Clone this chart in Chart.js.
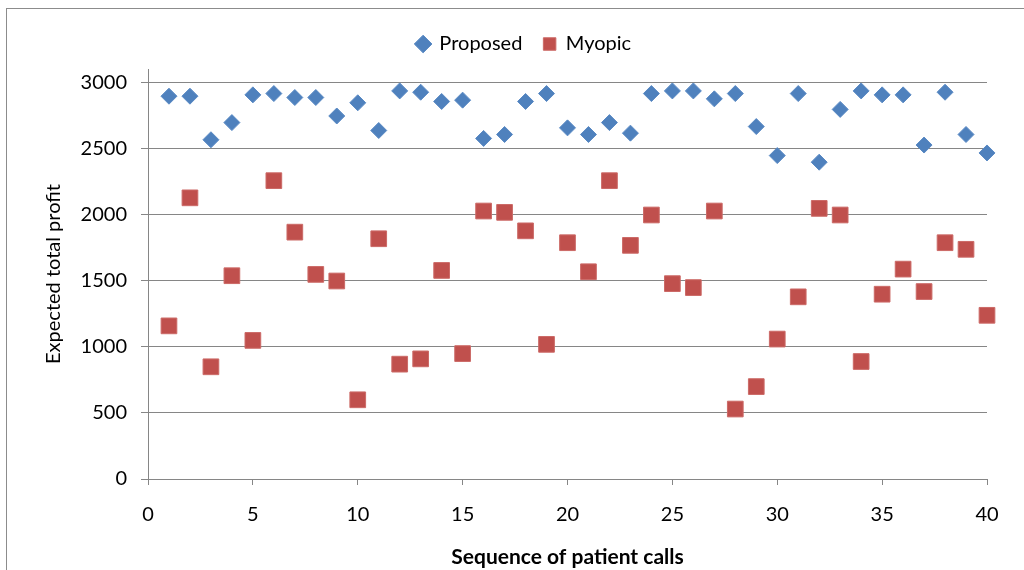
<!DOCTYPE html>
<html>
<head>
<meta charset="utf-8">
<script src="https://cdn.jsdelivr.net/npm/chart.js@4/dist/chart.umd.min.js"></script>
<style>
  body { margin: 0; background: #fff; }
  #wrap { position: relative; width: 1024px; height: 570px; overflow: hidden; }
  #frame { position: absolute; left: 6px; top: 8px; width: 1100px; height: 700px;
           border: 1px solid #8c8c8c; pointer-events: none; }
</style>
</head>
<body>
<div id="wrap">
  <canvas id="chart1" width="1024" height="570"></canvas>
  <div id="frame"></div>
</div>
<script>
const calls = [];
for (let i = 1; i <= 40; i++) calls.push(i);

const proposed = [2900, 2900, 2570, 2700, 2910, 2920, 2890, 2890, 2750, 2850,
                  2640, 2940, 2930, 2860, 2870, 2580, 2610, 2860, 2920, 2660,
                  2610, 2700, 2620, 2920, 2940, 2940, 2880, 2920, 2670, 2450,
                  2920, 2400, 2800, 2940, 2910, 2910, 2530, 2930, 2610, 2470];

const myopic = [1160, 2130, 850, 1540, 1050, 2260, 1870, 1550, 1500, 600,
                1820, 870, 910, 1580, 950, 2030, 2020, 1880, 1020, 1790,
                1570, 2260, 1770, 2000, 1480, 1450, 2030, 530, 700, 1060,
                1380, 2050, 2000, 890, 1400, 1590, 1420, 1790, 1740, 1240];

const yTicks = [0, 500, 1000, 1500, 2000, 2500, 3000];
const xTicks = [0, 5, 10, 15, 20, 25, 30, 35, 40];

const font = "Lato, 'Open Sans', sans-serif";
const axisGray = "#868686";

// empty axes only used as spacers around the plot area
const spacer = (pos, size) => ({
  position: pos,
  display: true,
  afterFit: s => { if (pos === 'top') s.height = size; else s.width = size; },
  grid: { display: false },
  border: { display: false },
  ticks: { display: false }
});

new Chart(document.getElementById("chart1"), {
  type: 'scatter',
  data: {
    datasets: [{
      label: 'Proposed',
      data: calls.map((x, i) => ({x: x, y: proposed[i]})),
      pointStyle: 'rectRot',
      pointRadius: 8,
      pointHoverRadius: 8,
      backgroundColor: '#4F81BD',
      borderColor: '#5a8ac4',
      borderWidth: 1,
      clip: false
    }, {
      label: 'Myopic',
      data: calls.map((x, i) => ({x: x, y: myopic[i]})),
      pointStyle: 'rect',
      pointRadius: 11.1,
      pointHoverRadius: 11.1,
      backgroundColor: '#C0504D',
      borderColor: '#cc6a67',
      borderWidth: 1,
      clip: false
    }]
  },
  options: {
    responsive: false,
    animation: false,
    layout: { padding: { left: 24, right: 0, top: 13, bottom: 0 } },
    plugins: {
      tooltip: { enabled: false },
      legend: {
        position: 'top',
        labels: {
          usePointStyle: true,
          boxWidth: 12.5,
          boxHeight: 12.5,
          padding: 21,
          color: '#000',
          font: { family: font, size: 20 }
        }
      }
    },
    scales: {
      x: {
        type: 'linear',
        position: 'bottom',
        min: 0,
        max: 40,
        afterBuildTicks: s => { s.ticks = xTicks.map(v => ({value: v})); },
        afterFit: s => { s.height = 91; },
        grid: { drawOnChartArea: false, color: axisGray, tickLength: 6 },
        border: { color: axisGray },
        ticks: { color: '#000', padding: 18, maxRotation: 0,
                 callback: v => String(v), font: { family: font, size: 20 } },
        title: {
          display: true,
          text: 'Sequence of patient calls',
          color: '#000',
          padding: { top: 0, bottom: 0 },
          font: { family: font, size: 21, weight: 'bold' }
        }
      },
      y: {
        position: 'left',
        min: 0,
        max: 3106,
        afterBuildTicks: s => { s.ticks = yTicks.map(v => ({value: v})); },
        afterFit: s => { s.width = 124; },
        grid: { color: axisGray, tickLength: 7 },
        border: { color: axisGray },
        ticks: { color: '#000', padding: 14, callback: v => String(v),
                 font: { family: font, size: 20 } },
        title: {
          display: true,
          text: 'Expected total profit',
          color: '#000',
          padding: { top: 18, bottom: 0 },
          font: { family: font, size: 20 }
        }
      },
      xTop: spacer('top', 5),
      yRight: spacer('right', 37)
    }
  }
});
</script>
</body>
</html>
